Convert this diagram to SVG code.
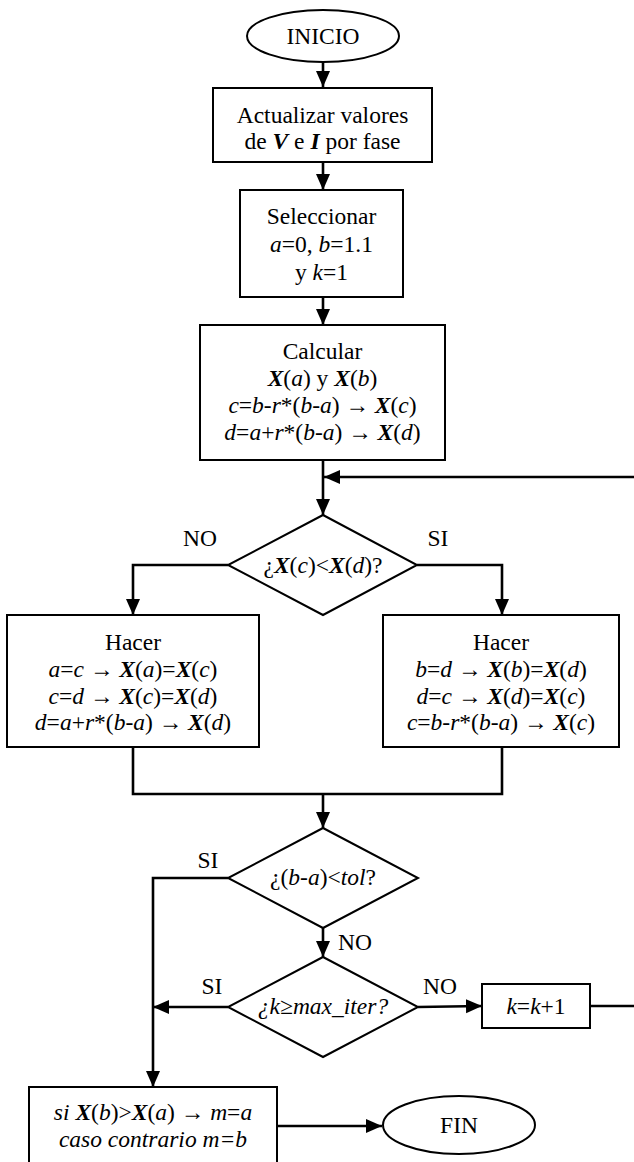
<svg xmlns="http://www.w3.org/2000/svg" width="634" height="1162" viewBox="0 0 634 1162">
<style>
text{font-family:"Liberation Serif","Times New Roman",serif;font-size:23.5px;fill:#000;text-anchor:middle}
.i{font-style:italic}
.bi{font-style:italic;font-weight:bold}
.shape{fill:#fff;stroke:#000;stroke-width:2}
.conn{fill:none;stroke:#000;stroke-width:2.6}
</style>
<defs>
<marker id="ah" markerUnits="userSpaceOnUse" markerWidth="18" markerHeight="16" refX="16" refY="7" orient="auto">
<path d="M0,0 L16,7 L0,14 Z" fill="#000"/>
</marker>
</defs>
<rect width="634" height="1162" fill="#fff"/>
<g id="connectors">
<line class="conn" x1="323" y1="62" x2="323" y2="87" marker-end="url(#ah)"/>
<line class="conn" x1="323" y1="162" x2="323" y2="190" marker-end="url(#ah)"/>
<line class="conn" x1="323" y1="297" x2="323" y2="325" marker-end="url(#ah)"/>
<line class="conn" x1="323" y1="460" x2="323" y2="515" marker-end="url(#ah)"/>
<line class="conn" x1="634" y1="477" x2="324" y2="477" marker-end="url(#ah)"/>
<polyline class="conn" points="228,565 133,565 133,615" marker-end="url(#ah)"/>
<polyline class="conn" points="417,565 502,565 502,615" marker-end="url(#ah)"/>
<polyline class="conn" points="133,747 133,794 502,794 502,747"/>
<line class="conn" x1="323" y1="794" x2="323" y2="828" marker-end="url(#ah)"/>
<polyline class="conn" points="228,878 153,878 153,1087" marker-end="url(#ah)"/>
<line class="conn" x1="323" y1="928" x2="323" y2="957" marker-end="url(#ah)"/>
<line class="conn" x1="228" y1="1007" x2="153" y2="1007" marker-end="url(#ah)"/>
<line class="conn" x1="418" y1="1007" x2="482" y2="1006" marker-end="url(#ah)"/>
<line class="conn" x1="590" y1="1006" x2="634" y2="1006"/>
<line class="conn" x1="277" y1="1126" x2="382" y2="1126" marker-end="url(#ah)"/>
</g>
<g id="inicio">
<ellipse class="shape" cx="323" cy="36" rx="76" ry="26"/>
<text x="323" y="44">INICIO</text>
</g>
<g id="actualizar">
<rect class="shape" x="213" y="88" width="219" height="74"/>
<text x="322.5" y="123">Actualizar valores</text>
<text x="322.5" y="149">de <tspan class="bi">V</tspan> e <tspan class="bi">I</tspan> por fase</text>
</g>
<g id="seleccionar">
<rect class="shape" x="240" y="190" width="163" height="107"/>
<text x="321.5" y="224">Seleccionar</text>
<text x="321.5" y="252"><tspan class="i">a</tspan>=0, <tspan class="i">b</tspan>=1.1</text>
<text x="321.5" y="280">y <tspan class="i">k</tspan>=1</text>
</g>
<g id="calcular">
<rect class="shape" x="200" y="325" width="245" height="135"/>
<text x="322.5" y="359">Calcular</text>
<text x="322.5" y="386"><tspan class="bi">X</tspan>(<tspan class="i">a</tspan>) y <tspan class="bi">X</tspan>(<tspan class="i">b</tspan>)</text>
<text x="322.5" y="413"><tspan class="i">c</tspan>=<tspan class="i">b</tspan>-<tspan class="i">r</tspan>*(<tspan class="i">b</tspan>-<tspan class="i">a</tspan>) → <tspan class="bi">X</tspan>(<tspan class="i">c</tspan>)</text>
<text x="322.5" y="440"><tspan class="i">d</tspan>=<tspan class="i">a</tspan>+<tspan class="i">r</tspan>*(<tspan class="i">b</tspan>-<tspan class="i">a</tspan>) → <tspan class="bi">X</tspan>(<tspan class="i">d</tspan>)</text>
</g>
<g id="decision1">
<polygon class="shape" points="323,515 417,565 323,615 228,565"/>
<text x="323" y="573">¿<tspan class="bi">X</tspan>(<tspan class="i">c</tspan>)&lt;<tspan class="bi">X</tspan>(<tspan class="i">d</tspan>)?</text>
<text x="200" y="546">NO</text>
<text x="438" y="546">SI</text>
</g>
<g id="hacer-no">
<rect class="shape" x="7" y="615" width="252" height="132"/>
<text x="133" y="650">Hacer</text>
<text x="133" y="677"><tspan class="i">a</tspan>=<tspan class="i">c</tspan> → <tspan class="bi">X</tspan>(<tspan class="i">a</tspan>)=<tspan class="bi">X</tspan>(<tspan class="i">c</tspan>)</text>
<text x="133" y="704"><tspan class="i">c</tspan>=<tspan class="i">d</tspan> → <tspan class="bi">X</tspan>(<tspan class="i">c</tspan>)=<tspan class="bi">X</tspan>(<tspan class="i">d</tspan>)</text>
<text x="133" y="730"><tspan class="i">d</tspan>=<tspan class="i">a</tspan>+<tspan class="i">r</tspan>*(<tspan class="i">b</tspan>-<tspan class="i">a</tspan>) → <tspan class="bi">X</tspan>(<tspan class="i">d</tspan>)</text>
</g>
<g id="hacer-si">
<rect class="shape" x="383" y="615" width="236" height="132"/>
<text x="501" y="650">Hacer</text>
<text x="501" y="677"><tspan class="i">b</tspan>=<tspan class="i">d</tspan> → <tspan class="bi">X</tspan>(<tspan class="i">b</tspan>)=<tspan class="bi">X</tspan>(<tspan class="i">d</tspan>)</text>
<text x="501" y="704"><tspan class="i">d</tspan>=<tspan class="i">c</tspan> → <tspan class="bi">X</tspan>(<tspan class="i">d</tspan>)=<tspan class="bi">X</tspan>(<tspan class="i">c</tspan>)</text>
<text x="501" y="730"><tspan class="i">c</tspan>=<tspan class="i">b</tspan>-<tspan class="i">r</tspan>*(<tspan class="i">b</tspan>-<tspan class="i">a</tspan>) → <tspan class="bi">X</tspan>(<tspan class="i">c</tspan>)</text>
</g>
<g id="decision2">
<polygon class="shape" points="323,828 418,878 323,928 228,878"/>
<text x="323" y="885">¿(<tspan class="i">b</tspan>-<tspan class="i">a</tspan>)&lt;<tspan class="i">tol</tspan>?</text>
<text x="208" y="868">SI</text>
<text x="355" y="950">NO</text>
</g>
<g id="decision3">
<polygon class="shape" points="323,957 418,1007 323,1057 228,1007"/>
<text x="323" y="1014" class="i">¿k≥max_iter?</text>
<text x="212" y="994">SI</text>
<text x="440" y="994">NO</text>
</g>
<g id="incremento">
<rect class="shape" x="482" y="984" width="108" height="44"/>
<text x="536" y="1014"><tspan class="i">k</tspan>=<tspan class="i">k</tspan>+1</text>
</g>
<g id="resultado">
<rect class="shape" x="29" y="1087" width="248" height="90"/>
<text x="153" y="1120"><tspan class="i">si</tspan> <tspan class="bi">X</tspan>(<tspan class="i">b</tspan>)&gt;<tspan class="bi">X</tspan>(<tspan class="i">a</tspan>) → <tspan class="i">m</tspan>=<tspan class="i">a</tspan></text>
<text x="153" y="1147" class="i">caso contrario m=b</text>
</g>
<g id="fin">
<ellipse class="shape" cx="459" cy="1125" rx="76" ry="29"/>
<text x="459" y="1133">FIN</text>
</g>
</svg>
